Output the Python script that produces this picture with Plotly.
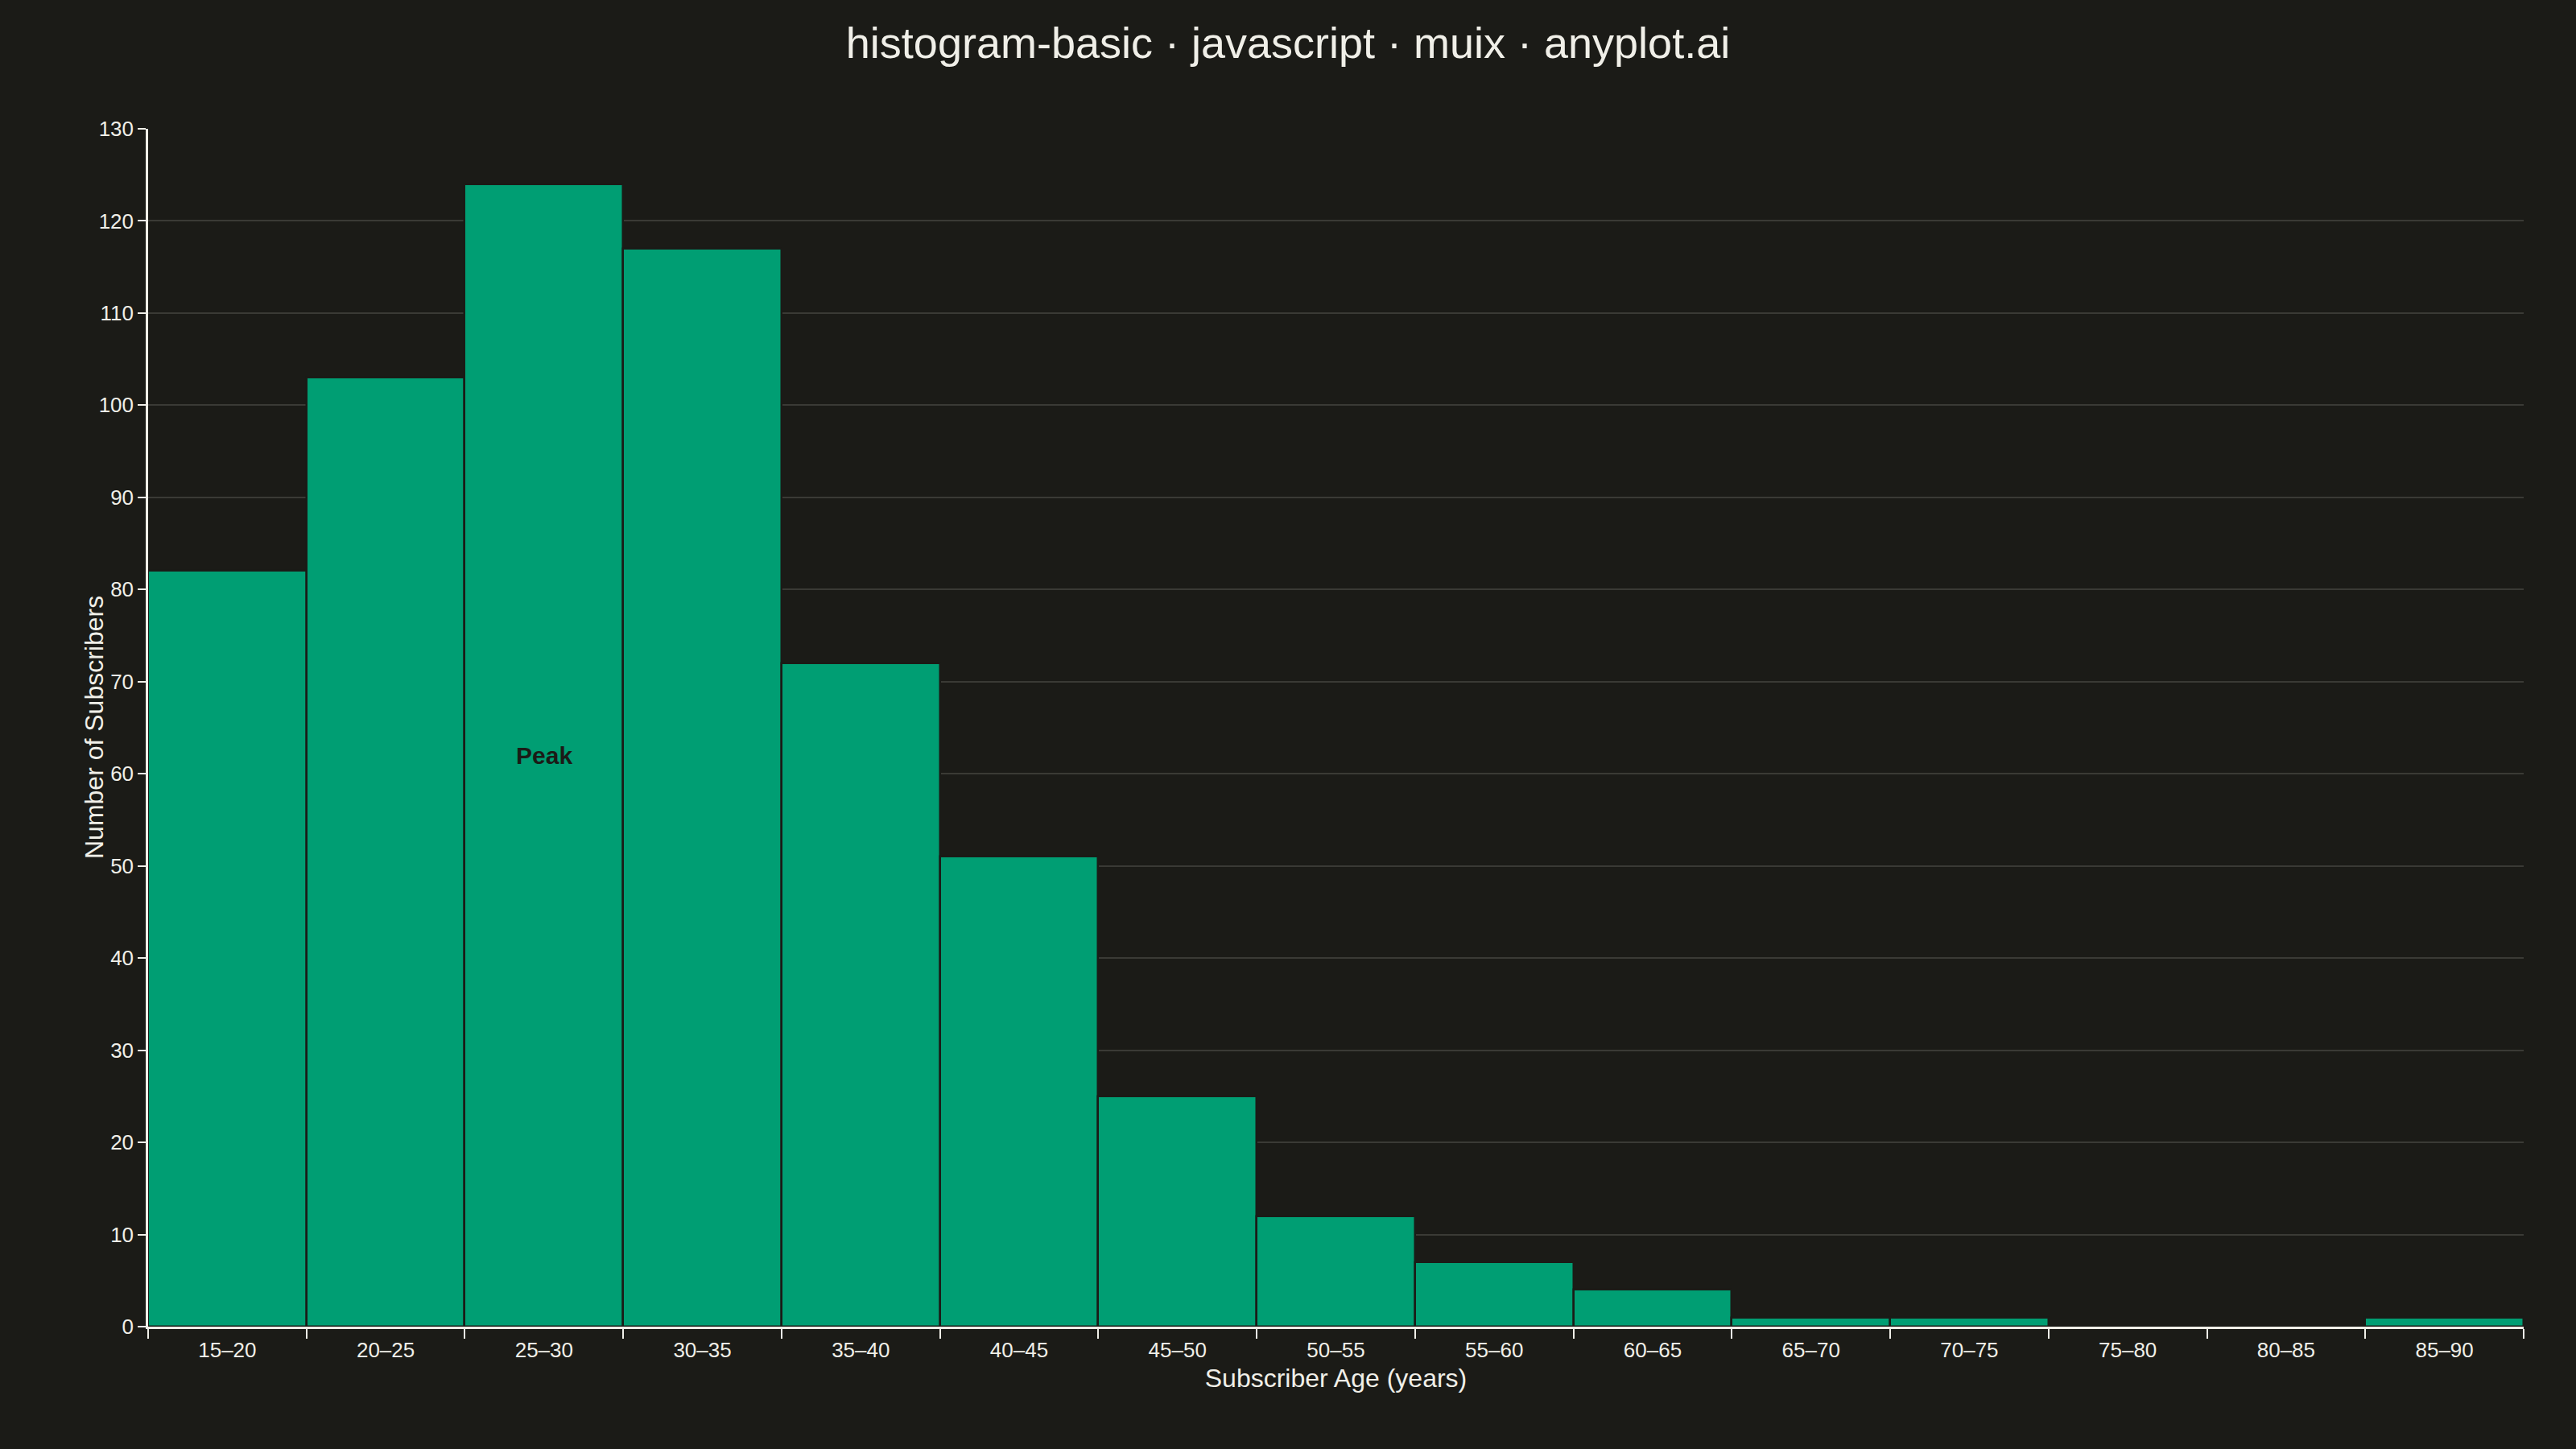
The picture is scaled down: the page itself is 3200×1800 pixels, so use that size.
import plotly.graph_objects as go

bins = ["15–20", "20–25", "25–30", "30–35", "35–40", "40–45", "45–50", "50–55",
        "55–60", "60–65", "65–70", "70–75", "75–80", "80–85", "85–90"]
counts = [82, 103, 124, 117, 72, 51, 25, 12, 7, 4, 1, 1, 0, 0, 1]
y_ticks = list(range(0, 131, 10))

BG = "#1b1b17"
INK = "#f0efe8"
GRID = "#3a3a35"
BAR = "#009e73"

peak_i = counts.index(max(counts))

fig = go.Figure(go.Bar(
    x=bins, y=counts,
    marker=dict(color=BAR, line=dict(color=BG, width=2.5)),
    hoverinfo="x+y",
))

fig.add_annotation(x=bins[peak_i], y=counts[peak_i] / 2, text="<b>Peak</b>",
                   showarrow=False, font=dict(size=30, color=BG, family="Liberation Sans"))

# y-axis title placed as a rotated annotation for precise position
fig.add_annotation(xref="paper", yref="paper", x=0, y=0.5, xanchor="center", yanchor="middle",
                   xshift=-67, textangle=-90, text="Number of Subscribers", showarrow=False,
                   font=dict(size=32, color=INK, family="Liberation Sans"))

fig.update_layout(
    width=3200, height=1800,
    paper_bgcolor=BG, plot_bgcolor=BG,
    margin=dict(l=184, r=65, t=160, b=152),
    bargap=0,
    font=dict(family="Liberation Sans", color=INK, size=26),
    title=dict(text="histogram-basic · javascript · muix · anyplot.ai",
               x=0.5, xanchor="center", y=0.981, yanchor="top",
               font=dict(size=54, color=INK)),
    showlegend=False,
)
fig.update_xaxes(
    type="category", tickson="boundaries", ticks="outside", ticklen=12, tickwidth=2,
    tickcolor=INK, showline=True, linecolor=INK, linewidth=2.5, showgrid=False,
    tickfont=dict(size=26, color=INK), ticklabelstandoff=4,
    title=dict(text="Subscriber Age (years)", font=dict(size=32, color=INK), standoff=10),
)
fig.update_yaxes(
    range=[0, 130], tickvals=y_ticks, ticks="outside", ticklen=10, tickwidth=2,
    tickcolor=INK, showline=True, linecolor=INK, linewidth=2.5,
    showgrid=True, gridcolor=GRID, gridwidth=2, zeroline=False,
    tickfont=dict(size=26, color=INK),
)

fig.write_html("out.html", config={"displayModeBar": False},
               post_script="document.body.style.margin='0';document.body.style.background='%s';" % BG)
